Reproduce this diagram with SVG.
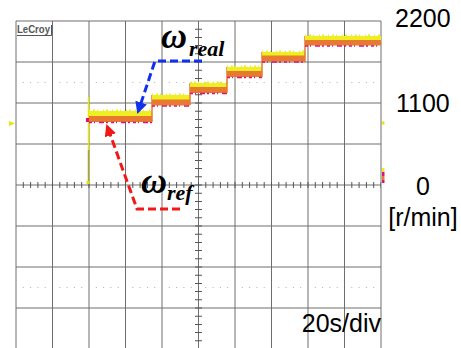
<svg xmlns="http://www.w3.org/2000/svg" width="461" height="348" viewBox="0 0 461 348">
<style>
.grid{stroke:#6e6e6e;stroke-width:1;fill:none}
.tick{stroke:#555;fill:none}
.dots{stroke:#b0b0b0;stroke-width:1;stroke-dasharray:1 6.3 1 6.3 1 6.3 1 13.6;fill:none}
.yel{fill:#eeee22}
.org{fill:#e67a30}
.pnk{stroke:#e0107a;stroke-width:1.5;stroke-dasharray:3 2 1 4 5 2 2 3;fill:none}
.spk{stroke:#eeee22;stroke-width:2;stroke-dasharray:1 3 2 2 1 5 1 2 2 4;fill:none}
.edge{stroke:#e67a30;stroke-width:1.5;fill:none}
.lbl{font-family:"Liberation Sans",Arial,sans-serif;font-size:25px;fill:#000}
.om{font-family:"Liberation Serif","Times New Roman",serif;font-weight:bold;font-style:italic;fill:#000}
.blue{stroke:#1030f0;stroke-width:3;stroke-dasharray:8 4;fill:none}
.red{stroke:#f01818;stroke-width:3;stroke-dasharray:8 4;fill:none}
</style>
<defs>
<marker id="ab" viewBox="0 0 12 12" refX="1" refY="6" markerWidth="12" markerHeight="12" markerUnits="userSpaceOnUse" orient="auto"><path d="M0,0 L12,6 L0,12 Z" fill="#1030f0"/></marker>
<marker id="ar" viewBox="0 0 12 12" refX="1" refY="6" markerWidth="12" markerHeight="12" markerUnits="userSpaceOnUse" orient="auto"><path d="M0,0 L12,6 L0,12 Z" fill="#f01818"/></marker>
</defs>
<rect width="461" height="348" fill="#ffffff"/>
<g id="grid">
<path class="grid" d="M16,21V349M52.5,21V349M89,21V349M125.5,21V349M162,21V349M198.5,21V349M235,21V349M271.5,21V349M308,21V349M344.5,21V349M381,21V349M16,21H381M16,62H381M16,103H381M16,144H381M16,185H381M16,226H381M16,267H381M16,308H381"/>
<path class="dots" d="M22.8,82.5H381M22.8,287.5H381"/>
<path class="tick" stroke-width="6" stroke-dasharray="1 6.3" d="M22.8,185H381"/>
<path class="tick" stroke-width="7" stroke-dasharray="1 7.2" d="M198.5,28.7V349"/>
</g>
<g id="lecroy">
<text x="17" y="33" font-family="Liberation Sans,Arial,sans-serif" font-size="11" font-weight="bold" fill="#555" textLength="33" lengthAdjust="spacingAndGlyphs">LeCroy</text>
<path d="M17,35.5H51.5V25" stroke="#555" stroke-width="1" fill="none"/>
</g>
<g id="markers">
<path d="M9,121 L15,123.5 L9,126 Z" fill="#e6e600"/>
<rect x="382" y="121.5" width="2.5" height="3" fill="#e6e600"/>
<rect x="382" y="168" width="2.5" height="4" fill="#eeee22"/>
<rect x="382" y="172" width="2.5" height="4" fill="#e0107a"/>
<rect x="382" y="176" width="2.5" height="4" fill="#e67a30"/>
<rect x="382" y="180" width="2.5" height="3" fill="#e0107a"/>
</g>
<g id="trace">
<path d="M88.5,97V150" stroke="#e6e600" stroke-width="1.5"/>
<path d="M88.5,150V184" stroke="#a8a820" stroke-width="1.5"/>
<rect x="86.5" y="181" width="3" height="3" fill="#e6e600"/>
<rect x="86" y="118" width="3" height="4" fill="#e0107a"/>
<rect class="yel" x="89" y="111" width="63" height="6"/>
<rect class="org" x="89" y="116" width="63" height="6"/>
<path class="pnk" d="M89,122.5H152"/>
<path class="spk" d="M89,110.5H152"/>
<path class="edge" d="M152,122V95"/>
<rect class="yel" x="152" y="95" width="38" height="5"/>
<rect class="org" x="152" y="99.5" width="38" height="6"/>
<path class="pnk" d="M152,106H190"/>
<path class="spk" d="M152,94.5H190"/>
<path class="edge" d="M190,105V83"/>
<rect class="yel" x="190" y="83" width="37" height="5"/>
<rect class="org" x="190" y="87" width="37" height="6"/>
<path class="pnk" d="M190,93.5H227"/>
<path class="spk" d="M190,82.5H227"/>
<path class="edge" d="M227,93V67"/>
<rect class="yel" x="227" y="67" width="35" height="5"/>
<rect class="org" x="227" y="71" width="35" height="6"/>
<path class="pnk" d="M227,77.5H262"/>
<path class="spk" d="M227,66.5H262"/>
<path class="edge" d="M262,77V52"/>
<rect class="yel" x="262" y="52" width="43" height="4"/>
<rect class="org" x="262" y="55.5" width="43" height="6"/>
<path class="pnk" d="M262,62H305"/>
<path class="spk" d="M262,51.5H305"/>
<path class="edge" d="M305,62V36"/>
<rect class="yel" x="305" y="36" width="76" height="4.5"/>
<rect class="org" x="305" y="40" width="76" height="5.5"/>
<path class="pnk" d="M305,46H381"/>
<path class="spk" d="M305,35.5H381"/>
</g>
<g id="connectors">
<path class="blue" d="M202,61H155L140.8,103.6" marker-end="url(#ab)"/>
<path class="red" d="M180,209H137L110.1,134.3" marker-end="url(#ar)"/>
</g>
<g id="omega-real">
<text class="om" x="161" y="48" font-size="36">ω</text>
<text class="om" x="189" y="56" font-size="22">real</text>
</g>
<g id="omega-ref">
<text class="om" x="141" y="193" font-size="36">ω</text>
<text class="om" x="167" y="200" font-size="22">ref</text>
</g>
<g id="labels">
<text class="lbl" x="395" y="27">2200</text>
<text class="lbl" x="396" y="112">1100</text>
<text class="lbl" x="423" y="195" text-anchor="middle">0</text>
<text class="lbl" x="423" y="226" text-anchor="middle">[r/min]</text>
<text class="lbl" x="381" y="332" text-anchor="end">20s/div</text>
</g>
</svg>
